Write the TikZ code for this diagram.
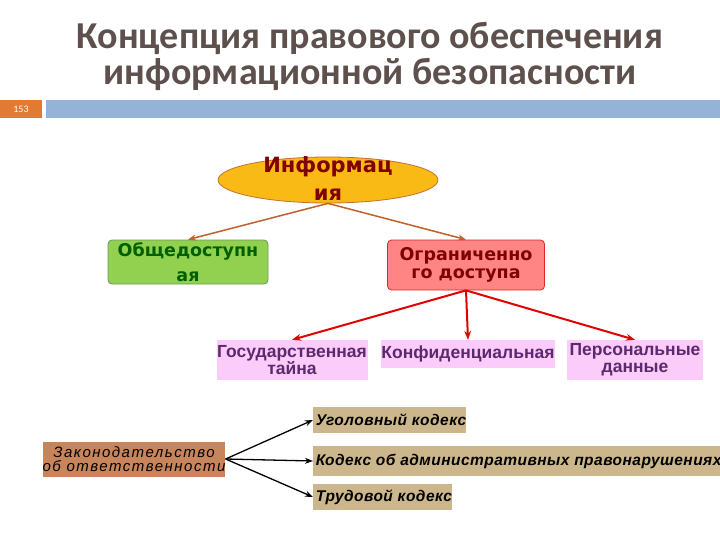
\documentclass[tikz,border=0pt]{standalone}
\usepackage{fontspec}
\setmainfont{Carlito}
\newfontfamily\arialfont{Liberation Sans}
\newfontfamily\widefont{DejaVu Sans}
\newfontfamily\codefont[LetterSpace=3]{Liberation Sans}
\newfontfamily\lawfont[LetterSpace=10]{Liberation Sans}
\usetikzlibrary{positioning,arrows.meta,shapes.geometric}

\definecolor{titlegray}{RGB}{94,80,76}
\definecolor{numorange}{RGB}{226,122,52}
\definecolor{barblue}{RGB}{149,179,215}
\definecolor{ellfill}{RGB}{250,186,22}
\definecolor{ellline}{RGB}{196,110,50}
\definecolor{darkred}{RGB}{128,0,0}
\definecolor{pubfill}{RGB}{146,208,80}
\definecolor{publine}{RGB}{110,150,100}
\definecolor{pubtext}{RGB}{0,96,0}
\definecolor{resfill}{RGB}{255,132,132}
\definecolor{resline}{RGB}{225,40,40}
\definecolor{pinkfill}{RGB}{251,204,250}
\definecolor{purpletext}{RGB}{92,40,110}
\definecolor{brownarr}{RGB}{192,96,44}
\definecolor{redarr}{RGB}{225,0,0}
\definecolor{copper}{RGB}{200,132,90}
\definecolor{tan}{RGB}{204,182,140}

\begin{document}
\begin{tikzpicture}[x=1pt,y=-1pt,
  headline/.style={text=titlegray, align=center, font=\bfseries\fontsize{38}{36}\selectfont},
  rootell/.style={draw=ellline, thick, fill=ellfill, ellipse,
                  minimum width=220pt, minimum height=46pt, inner sep=0pt},
  kind/.style={draw, rounded corners=4pt, align=center, thick, inner sep=0pt},
  secret/.style={fill=pinkfill, align=center, text=purpletext, inner sep=0pt,
                 font=\arialfont\bfseries\fontsize{17.5}{17}\selectfont},
  code/.style={fill=tan, align=left, anchor=west, inner sep=0pt,
               minimum height=26pt, font=\codefont\bfseries\itshape\fontsize{15.5}{15}\selectfont},
  barr/.style={-{Stealth[length=8pt]}, line width=1.5pt, brownarr},
  rarr/.style={-{Stealth[length=9pt]}, line width=2pt, redarr},
  karr/.style={-{Stealth[length=8pt]}, line width=1.3pt, black}
]
  \useasboundingbox[fill=white] (0,0) rectangle (720,540);

  % header
  \node[headline] (title) at (370,56) {Концепция правового обеспечения\\информационной безопасности};
  \node[fill=numorange, minimum width=42pt, minimum height=18pt, inner sep=0pt,
        text=white, font=\fontsize{10}{10}\selectfont] (num) at (21,109) {153};
  \node[fill=barblue, minimum width=674pt, minimum height=18pt, inner sep=0pt,
        right=4pt of num] (bar) {};

  % information types
  \node[rootell] (info) at (328,180) {};
  \node[text=darkred, align=center, font=\widefont\bfseries\fontsize{21}{28}\selectfont]
    (infotext) at (328,179) {Информац\\ия};
  \node[kind, fill=pubfill, draw=publine, text=pubtext,
        font=\widefont\bfseries\fontsize{17.5}{25}\selectfont,
        minimum width=160pt, minimum height=44pt] (pub) at (188,262) {Общедоступн\\ая};
  \node[kind, fill=resfill, draw=resline, text=darkred,
        font=\widefont\bfseries\fontsize{17.5}{17.5}\selectfont,
        minimum width=157pt, minimum height=50pt] (res) at (466,265) {Ограниченно\\го доступа};

  \draw[barr] (info.south) -- (pub.north);
  \draw[barr] (info.south) -- (res.north);

  \node[secret, minimum width=151pt, minimum height=40pt] (state) at (292,360) {Государственная\\тайна};
  \node[secret, minimum width=174pt, minimum height=28pt] (conf)  at (468,354) {Конфиденциальная};
  \node[secret, minimum width=136pt, minimum height=40pt] (pers)  at (635,360) {Персональные\\данные};

  \draw[rarr] (res.south) -- (state.north);
  \draw[rarr] (res.south) -- (conf.north);
  \draw[rarr] (res.south) -- (pers.north);

  % liability legislation
  \node[fill=copper, align=center, inner sep=0pt, minimum width=181pt, minimum height=35pt,
        font=\lawfont\itshape\fontsize{15}{13.5}\selectfont] (law) at (134,459)
        {Законодательство\\об ответственности};
  \node[code, minimum width=147pt] (crim) at (313,420) {\,Уголовный кодекс};
  \node[code, minimum width=370pt, minimum height=30pt] (adm) at (313,461)
        {\,Кодекс об административных правонарушениях};
  \node[code, minimum width=139pt] (labour) at (313,497) {\,Трудовой кодекс};

  \coordinate (lawout) at (law.east);
  \draw[karr] (lawout) -- (crim.west);
  \draw[karr] (lawout) -- (adm.west);
  \draw[karr] (lawout) -- (labour.west);
\end{tikzpicture}
\end{document}
